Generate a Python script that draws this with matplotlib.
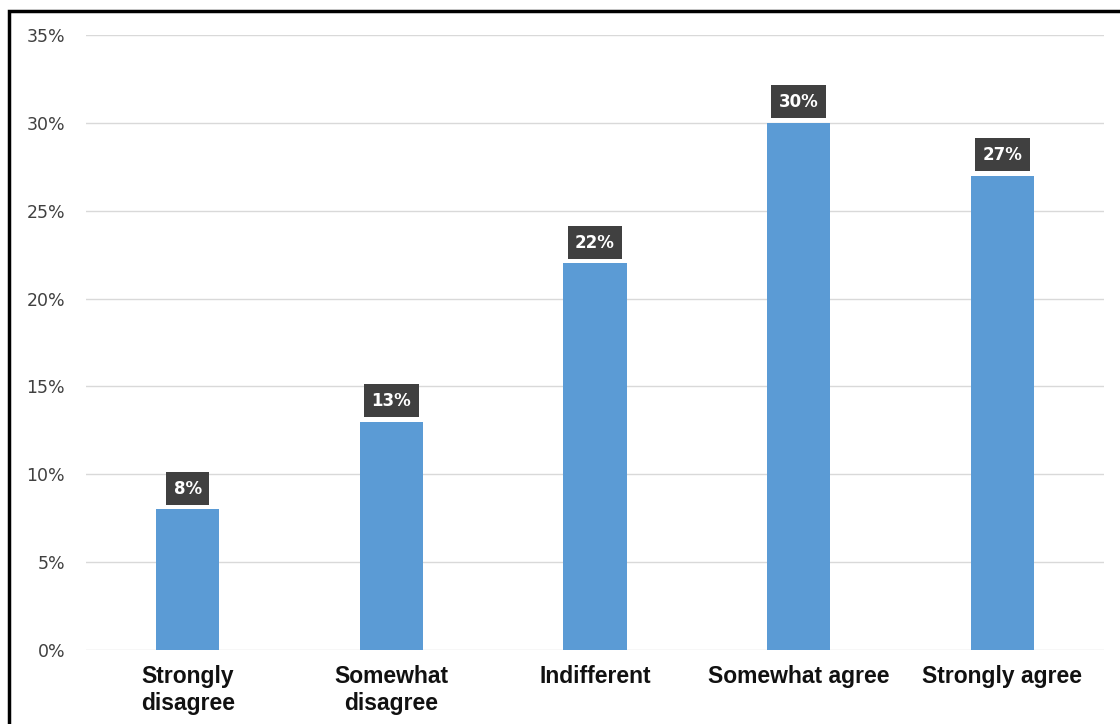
import matplotlib.pyplot as plt
from matplotlib.patches import Rectangle
from matplotlib.ticker import PercentFormatter

categories = ["Strongly\ndisagree", "Somewhat\ndisagree", "Indifferent",
              "Somewhat agree", "Strongly agree"]
shares = [8, 13, 22, 30, 27]
yticks = [0, 5, 10, 15, 20, 25, 30, 35]

fig = plt.figure(figsize=(11.2, 7.24), dpi=100)
ax = fig.add_axes([0.0768, 0.1022, 0.9089, 0.8495])

x = range(len(categories))
bars = ax.bar(x, shares, width=0.31, color="#5b9bd5", zorder=2)

# value labels in dark boxes above each bar
for b, v in zip(bars, shares):
    ax.annotate(f"{v}%", (b.get_x() + b.get_width() / 2, v),
                xytext=(0, 15), textcoords="offset points",
                ha="center", va="center", color="white",
                fontsize=12, fontweight="bold", family="DejaVu Sans",
                bbox=dict(boxstyle="square,pad=0.45", fc="#404040", ec="none"))

ax.set_xlim(-0.5, len(categories) - 0.5)
ax.set_ylim(0, 35)
ax.set_yticks(yticks)
ax.yaxis.set_major_formatter(PercentFormatter(decimals=0))
ax.grid(axis="y", color="#d9d9d9", linewidth=1, zorder=0)
ax.set_xticks(list(x))
ax.set_xticklabels(categories, fontsize=16.5, fontweight="bold",
                   family="Liberation Sans", color="#111111", linespacing=1.2)
for lbl in ax.get_yticklabels():
    lbl.set_family("DejaVu Sans")
    lbl.set_fontsize(12.5)
    lbl.set_color("#404040")
ax.tick_params(axis="both", length=0)
ax.tick_params(axis="y", pad=15)
ax.tick_params(axis="x", pad=11)
for s in ax.spines.values():
    s.set_visible(False)

# outer frame, runs off the right and bottom edges
fig.patches.append(Rectangle((9 / 1120, -0.1), 1.2, 1.1 - 11 / 724,
                             transform=fig.transFigure, fill=False,
                             ec="black", lw=2.5))

fig.savefig("out.png", dpi=100)
